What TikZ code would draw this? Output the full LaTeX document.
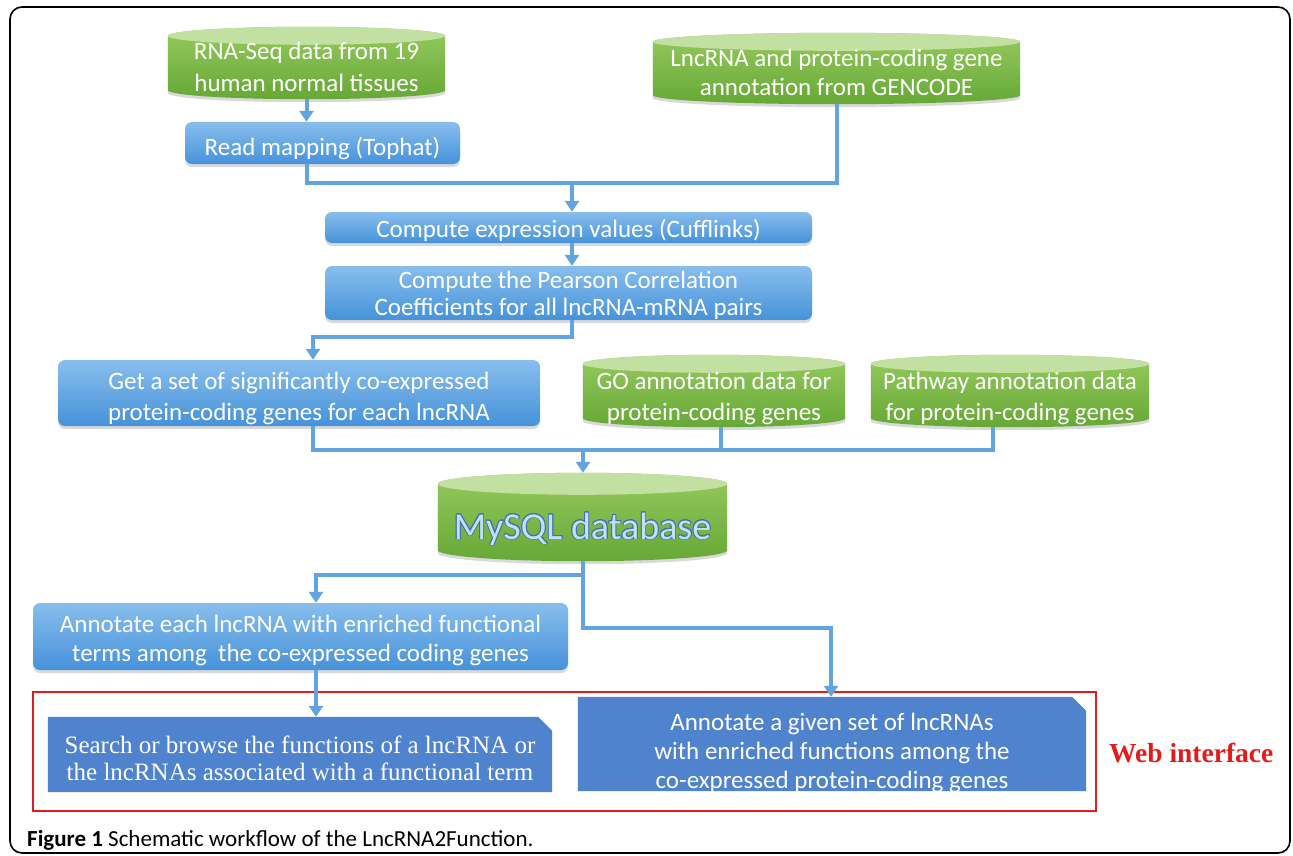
\documentclass[tikz,border=0pt]{standalone}
\usepackage{fontspec}
\setmainfont{Carlito}
\newfontfamily\tnr{Liberation Serif}
\usepackage{contour}
\contourlength{0.9pt}
\usetikzlibrary{arrows.meta,shadows,calc}
\pgfdeclarelayer{background}
\pgfsetlayers{background,main}
\definecolor{gT}{RGB}{150,202,94}
\definecolor{gB}{RGB}{102,168,54}
\definecolor{gC}{RGB}{194,224,162}
\definecolor{bT}{RGB}{136,190,237}
\definecolor{bB}{RGB}{70,146,218}
\definecolor{lnc}{RGB}{98,164,224}
\definecolor{dkb}{RGB}{80,131,206}
\definecolor{rd}{RGB}{226,28,28}
\definecolor{myt}{RGB}{196,224,248}
\definecolor{myo}{RGB}{62,112,178}
\newcommand\mytab[2][1]{\def\arraystretch{#1}\begin{tabular}[t]{@{}c@{}}#2\end{tabular}}
\newcommand\drawcyl[2]{%
\begin{pgfonlayer}{background}
\path[top color=gT, bottom color=gB, drop shadow={shadow xshift=0pt,shadow yshift=-3pt,opacity=0.3}]
 let \p1=(#1.north west), \p2=(#1.south east), \n1={(\x2-\x1)/2} in
 (\x1,\y1) -- (\x1,\y2+#2pt) arc[start angle=180,end angle=360,x radius=\n1,y radius=#2pt]
 -- (\x2,\y1) arc[start angle=0,end angle=180,x radius=\n1,y radius=#2pt] -- cycle;
\path[fill=gC] let \p1=(#1.north west), \p2=(#1.south east), \n1={(\x2-\x1)/2} in
 (\x1+\n1,\y1) ellipse[x radius=\n1,y radius=#2pt];
\end{pgfonlayer}}
\newcommand\drawchamf[1]{%
\begin{pgfonlayer}{background}
\fill[dkb] (#1.south west) -- (#1.south east) -- ([yshift=-14pt]#1.north east)
 -- ([xshift=-14pt]#1.north east) -- (#1.north west) -- cycle;
\end{pgfonlayer}}
\begin{document}
\begin{tikzpicture}[x=1pt,y=-1pt,font=\fontsize{25}{29}\selectfont,
 cyl/.style={inner sep=0pt,text=white},
 bbox/.style={rounded corners=7pt,top color=bT,bottom color=bB,text=white,inner sep=0pt,
   drop shadow={shadow xshift=0pt,shadow yshift=-3pt,opacity=0.3}},
 dbox/.style={inner sep=0pt,text=white},
 tdep/.style={text height=0pt,text depth=#1},
 thgt/.style={text height=#1,text depth=0pt},
 ln/.style={draw=lnc,line width=4pt},
 arr/.style={ln,-{Triangle[width=14pt,length=11pt]}}]
\useasboundingbox (0,0) rectangle (1293,856);
\draw[line width=1.6pt,rounded corners=12pt] (10,7) rectangle (1290,853);

\node[cyl,minimum width=277pt,minimum height=63pt,tdep=15pt] (rna) at (306.5,67.5)
 {\mytab[1.1]{RNA-Seq data from 19\\human normal tissues}};
\node[cyl,minimum width=367pt,minimum height=62pt,tdep=12pt] (gen) at (836.5,73)
 {\mytab{LncRNA and protein-coding gene\\annotation from GENCODE}};
\node[bbox,minimum width=275pt,minimum height=42pt,thgt=24pt] (read) at (322.5,143)
 {Read mapping (Tophat)};
\node[bbox,minimum width=487pt,minimum height=31pt,thgt=19pt] (expr) at (568.5,227.5)
 {Compute expression values (Cufflinks)};
\node[bbox,minimum width=487pt,minimum height=54pt,tdep=10pt] (pear) at (568.5,293)
 {\mytab[0.94]{Compute the Pearson Correlation\\Coefficients for all lncRNA-mRNA pairs}};
\node[bbox,minimum width=482pt,minimum height=66pt,tdep=8pt] (get) at (299,393)
 {\mytab[1.1]{Get a set of significantly co-expressed\\protein-coding genes for each lncRNA}};
\node[cyl,minimum width=262pt,minimum height=63pt,tdep=13pt] (go) at (714,395.5)
 {\mytab[1.07]{GO annotation data for\\protein-coding genes}};
\node[cyl,minimum width=278pt,minimum height=63pt,tdep=13pt] (pw) at (1010,395.5)
 {\mytab[1.07]{Pathway annotation data\\for protein-coding genes}};
\node[cyl,minimum width=289pt,minimum height=77pt,thgt=33pt,text=myt,
 font=\fontsize{38}{40}\selectfont] (my) at (582.5,522.5) {\contour{myo}{MySQL database}};
\node[bbox,minimum width=535pt,minimum height=67pt,tdep=9pt] (ann) at (300.5,636.5)
 {\mytab{Annotate each lncRNA with enriched functional\\terms among\ \ the co-expressed coding genes}};
\node[dbox,minimum width=504pt,minimum height=75pt,tdep=3pt,font=\tnr\fontsize{25}{29}\selectfont] (srch) at (300,754.5)
 {\mytab[0.95]{Search or browse the functions of a lncRNA or\\the lncRNAs associated with a functional term}};
\node[dbox,minimum width=508pt,minimum height=94pt,tdep=28pt] (rbox) at (832,744)
 {\mytab{Annotate a given set of lncRNAs\\with enriched functions among the\\co-expressed protein-coding genes}};

\drawcyl{rna}{9}
\drawcyl{gen}{9}
\drawcyl{go}{9}
\drawcyl{pw}{9}
\drawcyl{my}{11}
\drawchamf{srch}
\drawchamf{rbox}

\draw[rd,line width=2.5pt] (33,692) rectangle (1096,811);
\node[anchor=base west,text=rd,inner sep=0pt,font=\tnr\bfseries\fontsize{27.5}{30}\selectfont] (webl) at (1109,762) {Web interface};
\node[anchor=base west,inner sep=0pt,font=\fontsize{23}{27}\selectfont] (cap) at (27,846)
 {\textbf{Figure 1} Schematic workflow of the LncRNA2Function.};

\coordinate (j1) at (572,183);
\coordinate (j2) at (313,337);
\coordinate (j3) at (583,450);
\coordinate (j4) at (583,575);
\coordinate (j4l) at (316,575);
\coordinate (j5) at (831,628);
\coordinate (gob) at ([xshift=7pt]go.south);
\coordinate (pwb) at ([xshift=-17pt]pw.south);
\coordinate (mytop) at ([yshift=11pt]my.north);

\draw[arr] (rna.south) -- (rna.south |- read.north);
\draw[ln] (rna.south |- read.south) |- (j1) -| (gen.south);
\draw[arr] (j1) -- (j1 |- expr.north);
\draw[arr] (j1 |- expr.south) -- (j1 |- pear.north);
\draw[arr] (j1 |- pear.south) |- (j2) -- (j2 |- get.north);
\draw[ln] (j2 |- get.south) |- (pwb |- j3) -- (pwb);
\draw[ln] (gob) -- (gob |- j3);
\draw[arr] (j3) -- (j3 |- mytop);
\draw[arr] (j3 |- my.south) |- (j4l) -- (j4l |- ann.north);
\draw[arr] (j4) |- (j5) -- (j5 |- rbox.north);
\draw[arr] (j4l |- ann.south) -- (j4l |- srch.north);
\end{tikzpicture}
\end{document}
